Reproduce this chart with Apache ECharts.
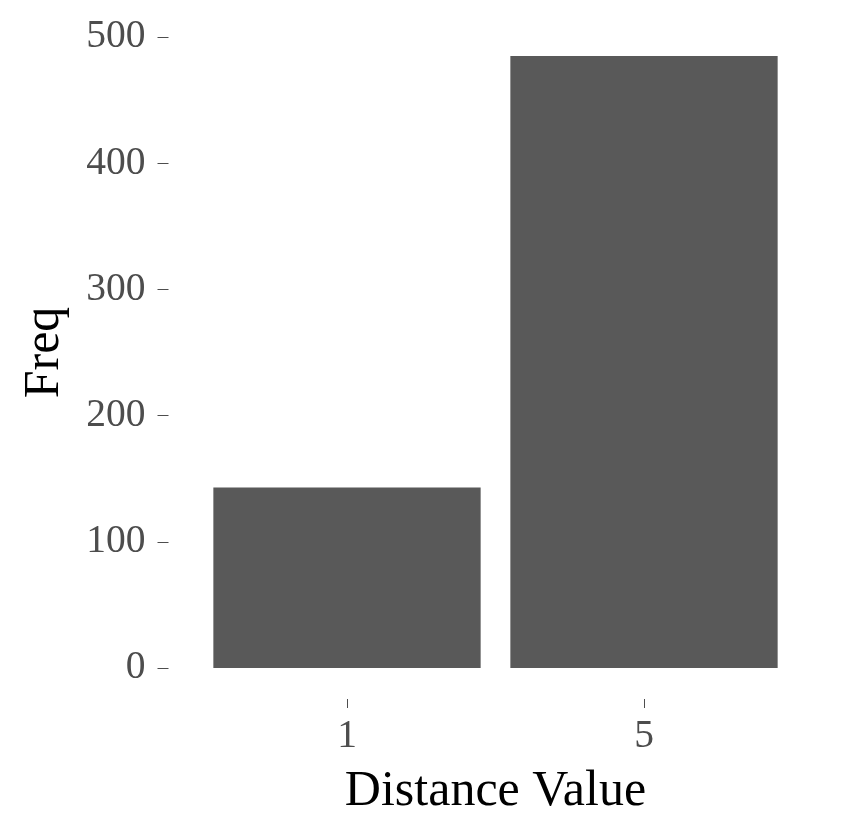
<!DOCTYPE html>
<html>
<head>
<meta charset="utf-8">
<script src="https://cdn.jsdelivr.net/npm/echarts@6/dist/echarts.min.js"></script>
<style>html,body{margin:0;padding:0;background:#fff}#c{width:848px;height:831px}</style>
</head>
<body>
<div id="c"></div>
<script>
const categories = ['1', '5'];
const freqValues = [143, 485];
const yTicks = [0, 100, 200, 300, 400, 500];

const FONT = '"Liberation Serif", "DejaVu Serif", serif';
const chart = echarts.init(document.getElementById('c'), null, {renderer: 'canvas'});
chart.setOption({
  animation: false,
  backgroundColor: '#ffffff',
  grid: {left: 198.5, width: 594, top: 37, height: 631, containLabel: false},
  xAxis: {
    type: 'category',
    data: categories,
    offset: 31,
    name: 'Distance Value',
    nameLocation: 'middle',
    nameGap: 68,
    nameTextStyle: {fontFamily: FONT, fontSize: 50, color: '#000'},
    axisLine: {show: false, onZero: false},
    axisTick: {show: true, alignWithLabel: true, length: 9, lineStyle: {color: '#4d4d4d', width: 1}},
    axisLabel: {fontFamily: FONT, fontSize: 39.5, color: '#4d4d4d', margin: 18},
    splitLine: {show: false}
  },
  yAxis: {
    type: 'value',
    min: yTicks[0],
    max: yTicks[yTicks.length - 1],
    interval: 100,
    offset: 30,
    name: 'Freq',
    nameLocation: 'middle',
    nameGap: 99,
    nameRotate: 90,
    nameTextStyle: {fontFamily: FONT, fontSize: 50, color: '#000'},
    axisLine: {show: false},
    axisTick: {show: true, length: 11, lineStyle: {color: '#4d4d4d', width: 1}},
    axisLabel: {fontFamily: FONT, fontSize: 39.5, color: '#4d4d4d', margin: 23},
    splitLine: {show: false}
  },
  series: [{
    type: 'bar',
    data: freqValues,
    barWidth: '90%',
    itemStyle: {color: '#595959'}
  }]
});
</script>
</body>
</html>
